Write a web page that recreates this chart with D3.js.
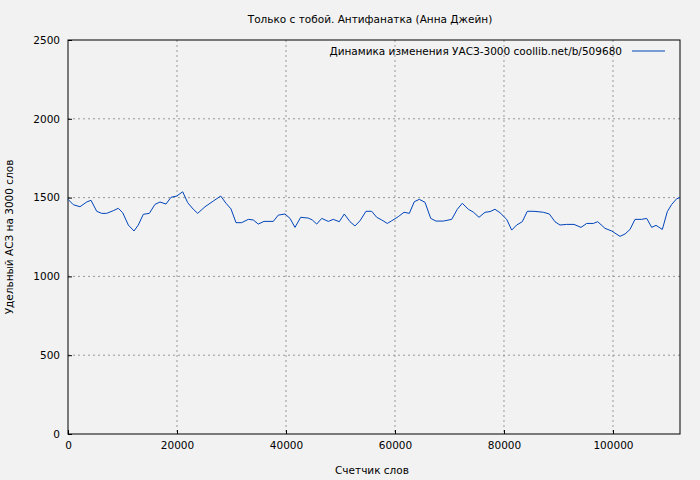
<!DOCTYPE html><html><head><meta charset="utf-8"><script src="https://cdn.jsdelivr.net/npm/d3@7"></script>
<style>body{margin:0;background:#f2f2f2}text{font-family:"DejaVu Sans",sans-serif;font-size:10.5px;fill:#000}</style></head><body><svg width="700" height="480"></svg><script>
const words=[0,970,2200,3430,4220,5270,6180,7100,8310,9230,10040,11070,12110,12900,13820,14920,15960,16880,17980,18900,19950,21050,21960,22990,23800,25140,26660,28020,28990,29910,30830,31870,33090,34000,34920,35970,37670,38590,39820,40740,41650,42700,44100,44830,45640,46550,47770,48680,49780,50700,51750,52660,53580,54680,55730,56650,57570,58590,59400,60610,61660,62630,63550,64470,65510,66560,67530,68870,70410,71440,72350,73460,74370,75420,76520,77440,78350,79270,80500,81420,82330,83360,84280,85510,87220,88320,89360,90280,91510,92850,94140,95180,96400,97200,98540,99770,101290,102210,103130,104040,105270,106190,107110,107900,109060,109970,110780,111700,112300];
const values=[1489,1455,1442,1472,1483,1413,1400,1400,1417,1432,1404,1326,1288,1326,1394,1400,1457,1472,1459,1502,1510,1537,1468,1426,1400,1442,1478,1510,1464,1428,1341,1341,1362,1358,1332,1349,1349,1389,1396,1368,1311,1375,1370,1358,1332,1368,1349,1362,1347,1396,1347,1320,1353,1413,1413,1375,1358,1336,1353,1379,1407,1400,1474,1489,1470,1368,1351,1351,1362,1426,1464,1426,1408,1375,1407,1411,1426,1404,1362,1294,1326,1347,1413,1413,1407,1396,1347,1326,1330,1330,1311,1336,1336,1347,1305,1288,1254,1269,1298,1362,1362,1368,1311,1324,1298,1411,1457,1493,1500];
const xTicks=[0,20000,40000,60000,80000,100000];
const yTicks=[0,500,1000,1500,2000,2500];
const title="Только с тобой. Антифанатка (Анна Джейн)";
const legendLabel="Динамика изменения УАСЗ-3000  coollib.net/b/509680";
const svg=d3.select("svg");
const L=68,R=680,T=40,B=434;
const x=d3.scaleLinear().domain([0,112300]).range([L,R]);
const y=d3.scaleLinear().domain([0,2500]).range([B,T]);
const g=svg.append("g");
xTicks.forEach(t=>{if(t>0)g.append("line").attr("x1",x(t)).attr("x2",x(t)).attr("y1",T).attr("y2",B).attr("stroke","#999").attr("stroke-dasharray","2,3");});
yTicks.forEach(t=>{if(t>0&&t<2500)g.append("line").attr("x1",L).attr("x2",R).attr("y1",y(t)).attr("y2",y(t)).attr("stroke","#999").attr("stroke-dasharray","2,3");});
svg.append("rect").attr("x",L).attr("y",T).attr("width",R-L).attr("height",B-T).attr("fill","none").attr("stroke","#000");
svg.append("g").attr("transform",`translate(0,${B})`).call(d3.axisBottom(x).tickValues(xTicks).tickSize(-4).tickPadding(8).tickFormat(d3.format("d"))).call(a=>a.select(".domain").remove()).selectAll("text").style("font-size","10.5px");
svg.append("g").attr("transform",`translate(${L},0)`).call(d3.axisLeft(y).tickValues(yTicks).tickSize(-4).tickPadding(8).tickFormat(d3.format("d"))).call(a=>a.select(".domain").remove()).selectAll("text").style("font-size","10.5px");
svg.append("path").datum(d3.zip(words,values)).attr("fill","none").attr("stroke","#0044bb").attr("stroke-width",1)
 .attr("d",d3.line().x(d=>x(d[0])).y(d=>y(d[1])));
svg.append("text").attr("x",370).attr("y",23).attr("text-anchor","middle").text(title);
svg.append("text").attr("x",622).attr("y",55).attr("text-anchor","end").text(legendLabel);
svg.append("line").attr("x1",632).attr("x2",665).attr("y1",51).attr("y2",51).attr("stroke","#0044bb");
svg.append("text").attr("x",372).attr("y",474).attr("text-anchor","middle").text("Счетчик слов");
svg.append("text").attr("transform","translate(13,237) rotate(-90)").attr("text-anchor","middle").text("Удельный АСЗ на 3000 слов");
</script></body></html>
